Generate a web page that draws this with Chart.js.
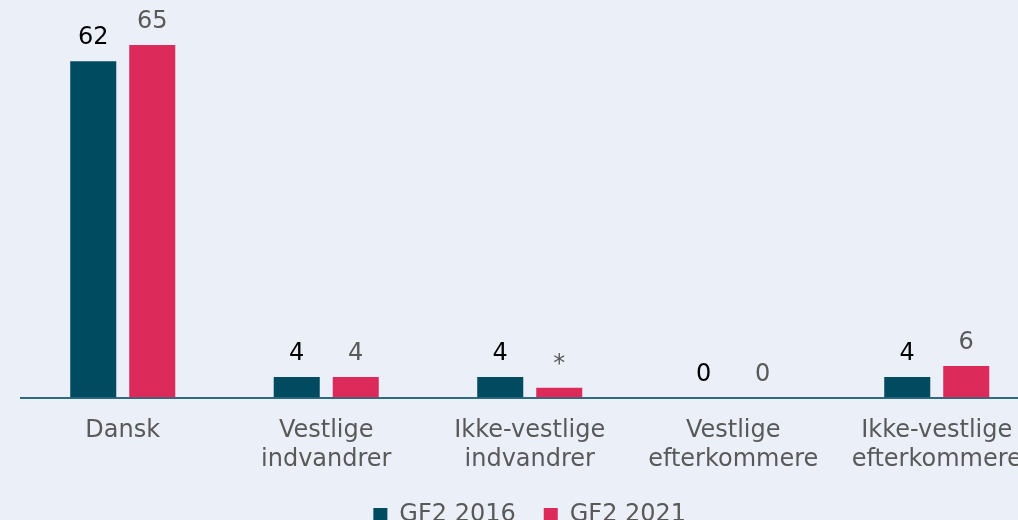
<!DOCTYPE html>
<html>
<head>
<meta charset="utf-8">
<script src="https://cdn.jsdelivr.net/npm/chart.js@4"></script>
<style>
  html, body { margin: 0; padding: 0; background: #EBEFF8; overflow: hidden; width: 1018px; height: 520px; }
  #wrap { position: absolute; left: 0; top: 0; width: 1060px; height: 537px; }
</style>
</head>
<body>
<div id="wrap"><canvas id="c"></canvas></div>
<script>
const categories = [
  ['Dansk'],
  ['Vestlige', 'indvandrer'],
  ['Ikke-vestlige', 'indvandrer'],
  ['Vestlige', 'efterkommere'],
  ['Ikke-vestlige', 'efterkommere']
];
const seriesNames = ['GF2 2016', 'GF2 2021'];
const values2016 = [62, 3.8, 3.8, 0, 3.8];
const values2021 = [65, 3.8, 1.8, 0, 5.8];
const labels2016 = ['62', '4', '4', '0', '4'];
const labels2021 = ['65', '4', '*', '0', '6'];
const yMax = 70;

const FONT = '"DejaVu Sans", Verdana, sans-serif';
const TEAL = '#004B5F';
const PINK = '#DC2A5B';
const GREY = '#595959';

const bgPlugin = {
  id: 'bg',
  beforeDraw(chart) {
    const ctx = chart.ctx;
    ctx.save();
    ctx.fillStyle = '#EBEFF8';
    ctx.fillRect(0, 0, chart.width, chart.height);
    ctx.restore();
  }
};

const valueLabels = {
  id: 'valueLabels',
  afterDatasetsDraw(chart) {
    const ctx = chart.ctx;
    ctx.save();
    ctx.font = '24px ' + FONT;
    ctx.textAlign = 'center';
    ctx.textBaseline = 'alphabetic';
    chart.data.datasets.forEach((ds, di) => {
      const meta = chart.getDatasetMeta(di);
      meta.data.forEach((bar, i) => {
        ctx.fillStyle = ds.labelColor;
        ctx.fillText(ds.valueText[i], bar.x, bar.y - 17);
      });
    });
    ctx.restore();
  }
};

new Chart(document.getElementById('c'), {
  type: 'bar',
  data: {
    labels: categories,
    datasets: [
      { label: seriesNames[0], data: values2016, backgroundColor: TEAL, valueText: labels2016, labelColor: '#000000' },
      { label: seriesNames[1], data: values2021, backgroundColor: PINK, valueText: labels2021, labelColor: GREY }
    ]
  },
  options: {
    responsive: true,
    maintainAspectRatio: false,
    animation: false,
    layout: { padding: { left: 21, right: 21.5, top: 18, bottom: 0 } },
    datasets: { bar: { categoryPercentage: 0.58, barPercentage: 0.78 } },
    scales: {
      x: {
        grid: { display: false, drawTicks: false },
        border: { display: true, color: '#2F6B7D', width: 2 },
        ticks: { color: GREY, font: { family: FONT, size: 24, lineHeight: 1.2 }, padding: 19, maxRotation: 0, autoSkip: false },
        afterFit(scale) { scale.height = 77.5; }
      },
      y: {
        display: false,
        min: 0,
        max: yMax
      }
    },
    plugins: {
      legend: {
        position: 'bottom',
        labels: { boxWidth: 14, boxHeight: 14, padding: 28, color: GREY, font: { family: FONT, size: 24 } }
      },
      tooltip: { enabled: false }
    }
  },
  plugins: [bgPlugin, valueLabels]
});
</script>
</body>
</html>
